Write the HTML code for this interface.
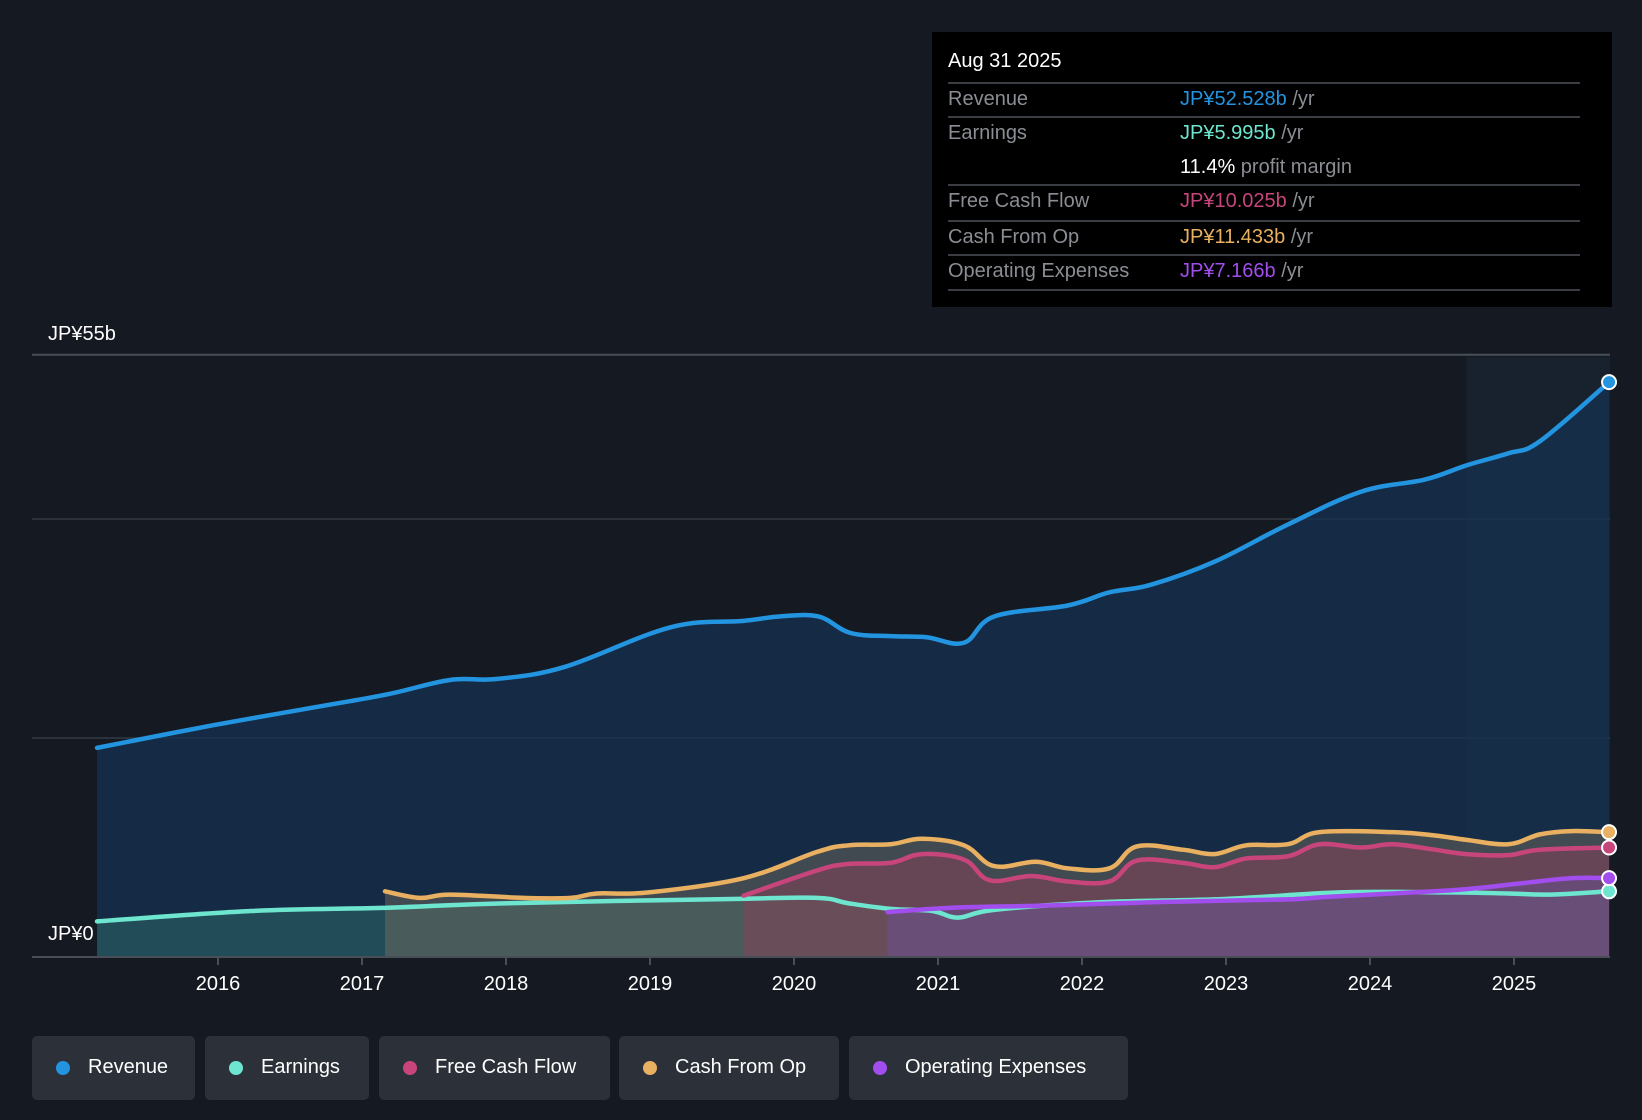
<!DOCTYPE html>
<html><head><meta charset="utf-8"><style>
html,body{margin:0;padding:0;background:#151a22;}
body{width:1642px;height:1120px;position:relative;overflow:hidden;font-family:"Liberation Sans",sans-serif;}
#chart{position:absolute;left:0;top:0;}
.tip{position:absolute;left:932px;top:32px;width:680px;height:275px;background:#000;}
.tip .t{position:absolute;left:16px;top:18px;color:#fff;font-size:20px;}
.row{position:absolute;left:16px;width:632px;height:34px;font-size:20px;}
.row .l{position:absolute;left:0;top:6px;color:#8a8d93;}
.row .v{position:absolute;left:232px;top:6px;color:#8a8d93;}
.sep{position:absolute;left:16px;width:632px;height:2px;background:#3a3d42;}
.leg{position:absolute;top:1036px;height:64px;background:#2b3039;border-radius:5px;color:#fff;font-size:20px;}
.leg .d{position:absolute;left:24px;top:25px;width:14px;height:14px;border-radius:50%;}
.leg .n{position:absolute;left:56px;top:20px;white-space:nowrap;}
</style></head><body>
<svg id="chart" width="1642" height="1120"></svg>

<div class="tip">
<div class="t">Aug 31 2025</div>
<div class="sep" style="top:50px"></div>
<div class="row" style="top:50px"><span class="l">Revenue</span><span class="v"><b style="color:#2394e0;font-weight:normal">JP¥52.528b</b> /yr</span></div>
<div class="sep" style="top:84px"></div>
<div class="row" style="top:84px"><span class="l">Earnings</span><span class="v"><b style="color:#6ee6cf;font-weight:normal">JP¥5.995b</b> /yr</span></div>
<div class="row" style="top:118px"><span class="v"><b style="color:#fff;font-weight:normal">11.4%</b> profit margin</span></div>
<div class="sep" style="top:152px"></div>
<div class="row" style="top:152px"><span class="l">Free Cash Flow</span><span class="v"><b style="color:#c8457c;font-weight:normal">JP¥10.025b</b> /yr</span></div>
<div class="sep" style="top:188px"></div>
<div class="row" style="top:188px"><span class="l">Cash From Op</span><span class="v"><b style="color:#e8b060;font-weight:normal">JP¥11.433b</b> /yr</span></div>
<div class="sep" style="top:222px"></div>
<div class="row" style="top:222px"><span class="l">Operating Expenses</span><span class="v"><b style="color:#a24ded;font-weight:normal">JP¥7.166b</b> /yr</span></div>
<div class="sep" style="top:257px"></div>
</div>

<div class="leg" style="left:32px;width:163px"><span class="d" style="background:#2394e0"></span><span class="n">Revenue</span></div>
<div class="leg" style="left:205px;width:164px"><span class="d" style="background:#6ee6cf"></span><span class="n">Earnings</span></div>
<div class="leg" style="left:379px;width:231px"><span class="d" style="background:#c8457c"></span><span class="n">Free Cash Flow</span></div>
<div class="leg" style="left:619px;width:220px"><span class="d" style="background:#e8b060"></span><span class="n">Cash From Op</span></div>
<div class="leg" style="left:849px;width:279px"><span class="d" style="background:#a24ded"></span><span class="n">Operating Expenses</span></div>

<script>
const revT=[2015.16,2015.94,2016.67,2017.18,2017.61,2017.94,2018.41,2019.14,2019.65,2019.9,2020.17,2020.39,2020.67,2020.92,2021.18,2021.39,2021.9,2022.19,2022.48,2022.92,2023.43,2023.94,2024.38,2024.67,2024.96,2025.18,2025.66];
const revV=[19.1,21.1,22.8,24.0,25.3,25.4,26.5,30.1,30.7,31.1,31.1,29.6,29.3,29.2,28.7,31.1,32.1,33.3,34.0,36.1,39.5,42.5,43.6,44.9,46.0,47.1,52.5];
const earnT=[2015.16,2016.23,2017.18,2017.98,2019.57,2020.16,2020.38,2020.67,2020.96,2021.14,2021.39,2022.12,2022.99,2023.79,2024.52,2024.96,2025.25,2025.66];
const earnV=[3.25,4.2,4.5,4.9,5.3,5.4,4.9,4.4,4.2,3.6,4.3,5.0,5.3,5.9,5.9,5.8,5.7,6.0];
const cfoT=[2017.16,2017.40,2017.61,2018.12,2018.45,2018.63,2018.99,2019.65,2020.16,2020.38,2020.67,2020.89,2021.18,2021.39,2021.68,2021.90,2022.19,2022.38,2022.70,2022.92,2023.14,2023.43,2023.65,2024.16,2024.45,2024.67,2024.96,2025.18,2025.40,2025.66];
const cfoV=[6.0,5.4,5.7,5.4,5.4,5.8,5.9,7.2,9.6,10.2,10.3,10.8,10.2,8.3,8.7,8.1,8.1,10.1,9.8,9.4,10.2,10.3,11.4,11.4,11.1,10.7,10.3,11.2,11.5,11.4];
const fcfT=[2019.65,2020.16,2020.38,2020.67,2020.89,2021.18,2021.36,2021.65,2021.90,2022.19,2022.38,2022.70,2022.92,2023.14,2023.43,2023.65,2023.94,2024.16,2024.45,2024.67,2024.96,2025.18,2025.66];
const fcfV=[5.6,7.9,8.5,8.6,9.4,8.9,7.0,7.4,6.9,6.9,8.8,8.6,8.2,9.0,9.2,10.3,10.0,10.3,9.8,9.4,9.3,9.8,10.0];
const opxT=[2020.65,2021.10,2021.76,2022.48,2023.21,2023.50,2023.72,2024.30,2024.67,2025.03,2025.40,2025.66];
const opxV=[4.1,4.5,4.7,5.0,5.2,5.3,5.5,5.9,6.2,6.7,7.2,7.2];
const xTicks=[2016,2017,2018,2019,2020,2021,2022,2023,2024,2025];
const yGrid=[20,40,55];

const NS='http://www.w3.org/2000/svg';
const svg=document.getElementById('chart');
const X=t=>218+(t-2016)*144;
const Y=v=>957-v*10.95;
function mk(tag,attrs,parent){const e=document.createElementNS(NS,tag);for(const k in attrs)e.setAttribute(k,attrs[k]);(parent||svg).appendChild(e);return e;}

const hl=mk('rect',{x:X(2024.67),y:357,width:1610-X(2024.67),height:600,fill:'#1c2c40',opacity:'0.45'});



yGrid.forEach(v=>{const l=mk('line',{x1:32,x2:1610,y1:Y(v),y2:Y(v),stroke:v===55?'#4a4f57':'#2c323b','stroke-width':2});

});

function pts(T,V){return T.map((t,i)=>[X(t),Y(V[i])]);}
function smooth(p){let d='M'+p[0][0]+','+p[0][1];const k=0.18;
 for(let i=1;i<p.length;i++){const p0=p[Math.max(0,i-2)],a=p[i-1],b=p[i],p3=p[Math.min(p.length-1,i+1)];
  const c1=[a[0]+(b[0]-p0[0])*k,a[1]+(b[1]-p0[1])*k],c2=[b[0]-(p3[0]-a[0])*k,b[1]-(p3[1]-a[1])*k];
  d+=' C'+c1[0]+','+c1[1]+' '+c2[0]+','+c2[1]+' '+b[0]+','+b[1];}
 return d;}
function series(name,T,V,color,fill,fop){
 const p=pts(T,V);const d=smooth(p);
 const a=mk('path',{d:d+' L'+p[p.length-1][0]+',957 L'+p[0][0]+',957 Z',fill:fill,'fill-opacity':fop});
 
 
 return {p,d};
}
const S=[
 ['revenue',revT,revV,'#2394e0','#163152',0.75],
 ['earnings',earnT,earnV,'#6ee6cf','#3a8a7a',0.35],
 ['cash-from-op',cfoT,cfoV,'#e8b060','#7a7060',0.45],
 ['free-cash-flow',fcfT,fcfV,'#c8457c','#8a3f5a',0.5],
 ['operating-expenses',opxT,opxV,'#a24ded','#6a5090',0.55]];
const res=S.map(s=>series(...s));
S.forEach((s,i)=>{const l=mk('path',{d:res[i].d,fill:'none',stroke:s[3],'stroke-width':4.5,'stroke-linecap':'round'});

});
S.forEach((s,i)=>{const p=res[i].p[res[i].p.length-1];const c=mk('circle',{cx:p[0],cy:p[1],r:7,fill:s[3],stroke:'#fff','stroke-width':2});

});

const ax=mk('line',{x1:32,x2:1610,y1:957,y2:957,stroke:'#4a4f57','stroke-width':2});


xTicks.forEach(t=>{const tk=mk('line',{x1:X(t),x2:X(t),y1:957,y2:965,stroke:'#4a4f57','stroke-width':2});


const tx=mk('text',{x:X(t),y:990,fill:'#fff','font-size':20,'text-anchor':'middle'});tx.textContent=t;

});
const l1=mk('text',{x:48,y:340,fill:'#fff','font-size':20});l1.textContent='JP¥55b';


const l2=mk('text',{x:48,y:940,fill:'#fff','font-size':20});l2.textContent='JP¥0';


</script>
</body></html>
